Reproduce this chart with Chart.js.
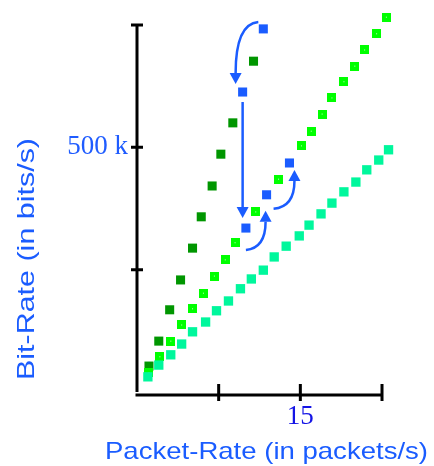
<!DOCTYPE html>
<html lang="en">
<head>
<meta charset="UTF-8" />
<title>Bit-Rate vs Packet-Rate</title>
<script src="https://cdn.jsdelivr.net/npm/chart.js"></script>
<style>
  body { margin: 0; background: #fff; }
  canvas { display: block; }
</style>
</head>
<body>
<canvas id="rateChart" width="434" height="466"></canvas>
<script>
// packet rate (packets/s) and bit rate (kbit/s)
const cyanRate = [1.0, 2.0, 3.1, 4.1, 5.1, 6.3, 7.3, 8.4, 9.5, 10.5, 11.6, 12.6, 13.7, 14.9, 15.8, 16.9, 17.9, 19.0, 20.1, 21.1, 22.2, 23.1];
const cyanBits = [31, 55, 76, 98, 123, 143, 166, 186, 211, 231, 249, 276, 298, 319, 341, 364, 386, 409, 429, 454, 474, 495];

const greenRate = [1.1, 2.1, 3.1, 4.1, 5.1, 6.1, 7.1, 8.1, 9.0, 10.9, 13.0, 15.1, 16.0, 17.0, 17.9, 19.0, 20.0, 20.9, 22.0, 22.9];
const greenBits = [39, 72, 104, 137, 170, 202, 237, 270, 305, 368, 435, 503, 533, 568, 601, 634, 666, 699, 732, 766];

const darkRate = [1.1, 2.0, 3.0, 4.0, 5.1, 5.9, 6.9, 7.7, 8.8, 10.7];
const darkBits = [53, 104, 168, 229, 294, 358, 421, 486, 550, 676];

// the moving point, in order of the arrows
const moveRate = [11.6, 9.7, 10.0, 11.9, 14.0];
const moveBits = [742, 613, 335, 403, 468];

// tick marks on the axes; only some carry a label
const xTicks = [7.5, 15, 22.5];
const xTickLabels = ['', '15', ''];
const yTicks = [250, 500, 750];
const yTickLabels = ['', '500 k', ''];

const BLUE = '#1a5cff';

function pts(xs, ys) {
  return xs.map((v, i) => ({ x: v, y: ys[i] }));
}

function tickText(at, text, v) {
  const i = at.findIndex(a => Math.abs(a - v) < 1e-6);
  return i < 0 ? '' : text[i];
}

// bright green squares have a tiny pale centre
function greenMark() {
  const c = document.createElement('canvas');
  c.width = 9; c.height = 9;
  const g = c.getContext('2d');
  g.fillStyle = '#00ff00';
  g.fillRect(0, 0, 9, 9);
  g.fillStyle = '#c8ffc8';
  g.fillRect(4, 4, 1, 1);
  return c;
}

function arrow(ctx, s, c, t) {
  const dx = t.x - c.x, dy = t.y - c.y;
  const len = Math.hypot(dx, dy);
  const ux = dx / len, uy = dy / len;
  const bx = t.x - ux * 11, by = t.y - uy * 11;
  ctx.beginPath();
  ctx.moveTo(s.x, s.y);
  ctx.quadraticCurveTo(c.x, c.y, bx, by);
  ctx.stroke();
  ctx.beginPath();
  ctx.moveTo(t.x, t.y);
  ctx.lineTo(bx - uy * 6, by + ux * 6);
  ctx.lineTo(bx + uy * 6, by - ux * 6);
  ctx.closePath();
  ctx.fill();
}

function stretchedText(ctx, text, x, y, angle, length) {
  ctx.save();
  ctx.translate(x, y);
  ctx.rotate(angle);
  ctx.scale(length / ctx.measureText(text).width, 1);
  ctx.fillText(text, 0, 0);
  ctx.restore();
}

const crossAxes = {
  id: 'crossAxes',
  beforeDatasetsDraw(chart) {
    const { ctx, chartArea: a, scales: { x, y } } = chart;
    const axisY = a.bottom + 3;
    const xEnd = x.getPixelForValue(xTicks[xTicks.length - 1]);
    const yEnd = y.getPixelForValue(yTicks[yTicks.length - 1]);
    ctx.save();
    ctx.strokeStyle = '#000';
    ctx.lineWidth = 3;
    ctx.beginPath();
    ctx.moveTo(a.left, yEnd - 1.5);
    ctx.lineTo(a.left, a.bottom);
    ctx.moveTo(a.left - 1.5, axisY);
    ctx.lineTo(xEnd + 1.5, axisY);
    y.ticks.forEach(t => {
      const py = y.getPixelForValue(t.value);
      ctx.moveTo(a.left - 6, py);
      ctx.lineTo(a.left + 6, py);
    });
    x.ticks.forEach(t => {
      const px = x.getPixelForValue(t.value);
      ctx.moveTo(px, axisY - 11);
      ctx.lineTo(px, axisY + 6);
    });
    ctx.stroke();
    ctx.restore();
  },
  afterDraw(chart) {
    const { ctx } = chart;
    ctx.save();
    ctx.fillStyle = BLUE;
    ctx.textAlign = 'left';
    ctx.textBaseline = 'alphabetic';
    ctx.font = '24px "Liberation Sans", Arial, sans-serif';
    stretchedText(ctx, 'Packet-Rate (in packets/s)', 105, 459, 0, 323);
    stretchedText(ctx, 'Bit-Rate (in bits/s)', 34, 380, -Math.PI / 2, 242);
    ctx.restore();
  }
};

const moveArrows = {
  id: 'moveArrows',
  afterDatasetsDraw(chart) {
    const p = chart.getDatasetMeta(0).data;
    const { ctx } = chart;
    ctx.save();
    ctx.strokeStyle = BLUE;
    ctx.fillStyle = BLUE;
    ctx.lineWidth = 2.5;
    arrow(ctx, { x: p[0].x - 5, y: p[0].y - 7 }, { x: p[1].x - 7, y: p[0].y - 5 }, { x: p[1].x - 7, y: p[1].y - 8 });
    arrow(ctx, { x: p[1].x, y: p[1].y + 10 }, { x: p[1].x, y: p[1].y + 60 }, { x: p[1].x, y: p[2].y - 10 });
    arrow(ctx, { x: p[2].x, y: p[2].y + 22 }, { x: p[3].x - 1, y: p[2].y + 20 }, { x: p[3].x - 1, y: p[3].y + 16 });
    arrow(ctx, { x: p[3].x + 7, y: p[3].y + 14 }, { x: p[4].x + 5, y: p[3].y + 12 }, { x: p[4].x + 5, y: p[4].y + 7 });
    ctx.restore();
  }
};

const serif = '"Liberation Serif", "Times New Roman", serif';

new Chart(document.getElementById('rateChart'), {
  type: 'scatter',
  data: {
    datasets: [
      { data: pts(moveRate, moveBits), backgroundColor: BLUE, pointStyle: 'rect', pointRadius: 6.4, borderWidth: 0, clip: false },
      { data: pts(cyanRate, cyanBits), backgroundColor: '#00f79c', pointStyle: 'rect', pointRadius: 6.6, borderWidth: 0, clip: false },
      { data: pts(greenRate, greenBits), pointStyle: greenMark(), pointRadius: 6, clip: false },
      { data: pts(darkRate, darkBits), backgroundColor: '#009600', pointStyle: 'rect', pointRadius: 6.4, borderWidth: 0, clip: false }
    ]
  },
  options: {
    responsive: false,
    animation: false,
    events: [],
    // axes run 0..22.5 and 0..750, the plot area a bit further so the last points are drawn
    layout: { padding: { left: 0, right: 41.1, top: 10.3, bottom: 0 } },
    plugins: { legend: { display: false }, tooltip: { enabled: false } },
    scales: {
      x: {
        type: 'linear', min: 0, max: 23.5,
        grid: { display: false, drawTicks: false },
        border: { display: false },
        ticks: {
          autoSkip: false, maxRotation: 0, padding: 9,
          color: '#1414e6',
          font: { family: serif, size: 27 },
          callback: v => tickText(xTicks, xTickLabels, v)
        },
        afterBuildTicks: s => { s.ticks = xTicks.map(v => ({ value: v })); },
        afterFit: s => {
          s.height = 74;
          s.paddingLeft = 0; s.paddingRight = 0;
        }
      },
      y: {
        type: 'linear', min: 0, max: 780,
        grid: { display: false, drawTicks: false },
        border: { display: false },
        ticks: {
          autoSkip: false, padding: 9,
          color: '#1f5cff',
          font: { family: serif, size: 27 },
          callback: v => tickText(yTicks, yTickLabels, v)
        },
        afterBuildTicks: s => { s.ticks = yTicks.map(v => ({ value: v })); },
        afterFit: s => {
          s.width = 137;
          s.paddingTop = 0; s.paddingBottom = 0;
        }
      }
    }
  },
  plugins: [crossAxes, moveArrows]
});
</script>
</body>
</html>
